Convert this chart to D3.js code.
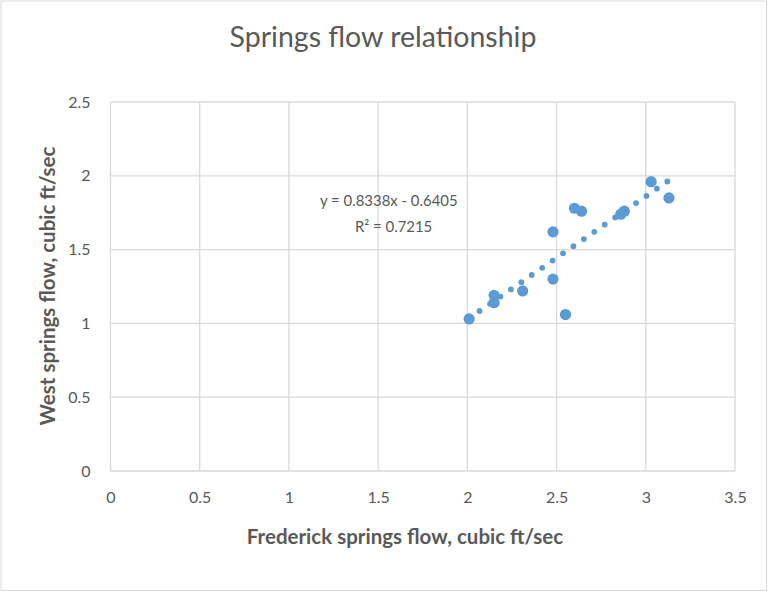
<!DOCTYPE html>
<html>
<head>
<meta charset="utf-8">
<script src="https://cdn.jsdelivr.net/npm/d3@7"></script>
<style>
  body { margin: 0; background: #fff; }
  text { font-family: Lato, "Open Sans", sans-serif; fill: #595959; }
</style>
</head>
<body>
<div id="chart"></div>
<script>
// Frederick springs flow (x) vs West springs flow (y), cubic ft/sec
const frederick = [2.01, 2.15, 2.15, 2.31, 2.48, 2.48, 2.55, 2.60, 2.64, 2.86, 2.88, 3.03, 3.13];
const west      = [1.03, 1.19, 1.14, 1.22, 1.62, 1.30, 1.06, 1.78, 1.76, 1.74, 1.76, 1.96, 1.85];
const xTicks = [0, 0.5, 1, 1.5, 2, 2.5, 3, 3.5];
const yTicks = [0, 0.5, 1, 1.5, 2, 2.5];
const slope = 0.8338, intercept = -0.6405;
const eqLabel = "y = 0.8338x - 0.6405";
const r2Label = "R² = 0.7215";

const W = 768, H = 593;
const margin = {top: 102, right: 33, bottom: 122, left: 110.5};
const width = W - margin.left - margin.right,
      height = H - margin.top - margin.bottom;

const svg = d3.select("#chart").append("svg")
  .attr("width", W).attr("height", H);

svg.append("rect").attr("x", 1).attr("y", 1).attr("width", W - 2.5).attr("height", H - 3.5)
  .attr("fill", "#fff").attr("stroke", "#d9d9d9").attr("stroke-width", 1);

const g = svg.append("g").attr("transform", `translate(${margin.left},${margin.top})`);

const x = d3.scaleLinear().domain([0, 3.5]).range([0, width]);
const y = d3.scaleLinear().domain([0, 2.5]).range([height, 0]);

// gridlines
g.append("g").selectAll("line").data(xTicks).join("line")
  .attr("x1", d => x(d)).attr("x2", d => x(d)).attr("y1", 0).attr("y2", height)
  .attr("stroke", "#d9d9d9").attr("stroke-width", 1.3);
g.append("g").selectAll("line").data(yTicks).join("line")
  .attr("x1", 0).attr("x2", width).attr("y1", d => y(d)).attr("y2", d => y(d))
  .attr("stroke", "#d9d9d9").attr("stroke-width", 1.3);

// axes (labels only)
const xAxis = g.append("g").attr("transform", `translate(0,${height})`)
  .call(d3.axisBottom(x).tickValues(xTicks).tickFormat(d3.format("")).tickSize(0).tickPadding(21));
const yAxis = g.append("g")
  .call(d3.axisLeft(y).tickValues(yTicks).tickFormat(d3.format("")).tickSize(0).tickPadding(20));
[xAxis, yAxis].forEach(a => {
  a.select(".domain").remove();
  a.selectAll("text").attr("font-family", "Lato").attr("font-size", 16).attr("fill", "#595959");
});

// trendline
g.append("line")
  .attr("x1", x(d3.min(frederick))).attr("y1", y(slope * d3.min(frederick) + intercept))
  .attr("x2", x(d3.max(frederick))).attr("y2", y(slope * d3.max(frederick) + intercept))
  .attr("stroke", "#5b9bd5").attr("stroke-width", 5.8)
  .attr("stroke-linecap", "round").attr("stroke-dasharray", "0 12.67");

// points
g.append("g").selectAll("circle").data(frederick).join("circle")
  .attr("cx", d => x(d)).attr("cy", (d, i) => y(west[i])).attr("r", 5.6)
  .attr("fill", "#5b9bd5");

// trendline label
svg.append("text").attr("x", 320).attr("y", 206).attr("font-size", 14.9).text(eqLabel);
svg.append("text").attr("x", 355).attr("y", 232).attr("font-size", 14.9).text(r2Label);

// titles
svg.append("text").attr("x", 383).attr("y", 47).attr("text-anchor", "middle")
  .attr("font-size", 28.5).text("Springs flow relationship");
svg.append("text").attr("x", 405).attr("y", 544).attr("text-anchor", "middle")
  .attr("font-size", 20.5).attr("font-weight", "bold").text("Frederick springs flow, cubic ft/sec");
svg.append("text").attr("transform", `translate(55,286) rotate(-90)`).attr("text-anchor", "middle")
  .attr("font-size", 20.5).attr("font-weight", "bold").text("West springs flow, cubic ft/sec");
</script>
</body>
</html>
